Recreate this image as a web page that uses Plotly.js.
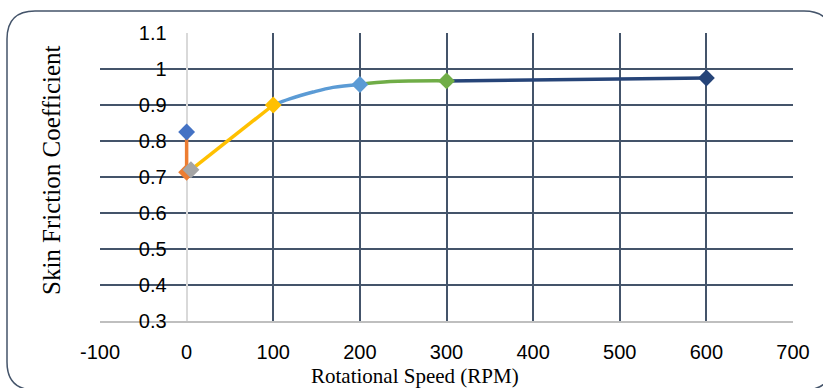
<!DOCTYPE html>
<html>
<head>
<meta charset="utf-8">
<script src="https://cdn.plot.ly/plotly-3.0.1.min.js"></script>
<style>html,body{margin:0;padding:0;background:#fff;}</style>
</head>
<body>
<div id="chart" style="width:823px;height:388px;"></div>
<script>
// Data (segments of the curve, each a separate series)
const seg1X = [0];                 const seg1Y = [0.825];
const seg2X = [0, 0];              const seg2Y = [0.825, 0.713];
const seg3X = [0, 5];              const seg3Y = [0.713, 0.72];
const seg4X = [5, 100];            const seg4Y = [0.72, 0.9];
const seg5X = [100, 119, 146, 169, 200]; const seg5Y = [0.9, 0.917, 0.936, 0.949, 0.957];
const seg6X = [200, 235, 300];     const seg6Y = [0.957, 0.965, 0.967];
const seg7X = [300, 600];          const seg7Y = [0.967, 0.975];
const xTicks = [-100, 0, 100, 200, 300, 400, 500, 600, 700];
const yTicks = [0.3, 0.4, 0.5, 0.6, 0.7, 0.8, 0.9, 1, 1.1];
const xTitle = 'Rotational Speed (RPM)';
const yTitle = 'Skin Friction Coefficient';

const segs = [
  {x: seg1X, y: seg1Y, c: '#4472c4'},
  {x: seg2X, y: seg2Y, c: '#ed7d31'},
  {x: seg3X, y: seg3Y, c: '#a5a5a5'},
  {x: seg4X, y: seg4Y, c: '#ffc000'},
  {x: seg5X, y: seg5Y, c: '#5b9bd5'},
  {x: seg6X, y: seg6Y, c: '#70ad47'},
  {x: seg7X, y: seg7Y, c: '#264478'}
];

const traces = [];
segs.forEach(s => {
  if (s.x.length > 1) {
    traces.push({x: s.x, y: s.y, mode: 'lines', type: 'scatter',
      line: {color: s.c, width: 3.5, shape: 'spline', smoothing: 1},
      hoverinfo: 'skip', showlegend: false});
  }
});
// end-point markers of each series
traces.push({
  x: segs.map(s => s.x[s.x.length - 1]),
  y: segs.map(s => s.y[s.y.length - 1]),
  mode: 'markers', type: 'scatter', showlegend: false,
  marker: {symbol: 'diamond', size: 13, color: segs.map(s => s.c), line: {width: 0}}
});

const W = 823, H = 388, mL = 100, mR = 30, mT = 33, mB = 67;
const pw = W - mL - mR, ph = H - mT - mB;
const px = v => (v - mL) / pw;
const py = v => (H - mB - v) / ph;
const bL = 7, bT = 11, bR = 832, bB = 390, rad = 28;
const frame = 'M ' + px(bL) + ' ' + py(bT + rad) +
  ' Q ' + px(bL) + ' ' + py(bT) + ' ' + px(bL + rad) + ' ' + py(bT) +
  ' L ' + px(bR - rad) + ' ' + py(bT) +
  ' Q ' + px(bR) + ' ' + py(bT) + ' ' + px(bR) + ' ' + py(bT + rad) +
  ' L ' + px(bR) + ' ' + py(bB - rad) +
  ' Q ' + px(bR) + ' ' + py(bB) + ' ' + px(bR - rad) + ' ' + py(bB) +
  ' L ' + px(bL + rad) + ' ' + py(bB) +
  ' Q ' + px(bL) + ' ' + py(bB) + ' ' + px(bL) + ' ' + py(bB - rad) + ' Z';

const tickFont = {family: 'Liberation Sans, Arial, sans-serif', size: 20, color: '#000'};
const layout = {
  width: W, height: H,
  margin: {l: mL, r: mR, t: mT, b: mB},
  paper_bgcolor: '#fff', plot_bgcolor: '#fff',
  showlegend: false,
  xaxis: {
    range: [-100, 700], tickmode: 'array', tickvals: xTicks, ticktext: xTicks.map(String),
    showgrid: true, gridcolor: '#44546a', gridwidth: 2,
    zeroline: true, zerolinecolor: '#d9d9d9', zerolinewidth: 2,
    showline: true, linecolor: '#bfbfbf', linewidth: 1.5,
    ticks: '', tickfont: tickFont, ticklabelstandoff: 12, fixedrange: true
  },
  yaxis: {
    range: [0.3, 1.1], tickmode: 'array', tickvals: yTicks, ticktext: yTicks.map(String),
    showgrid: true, gridcolor: '#44546a', gridwidth: 2,
    zeroline: false, showline: false,
    anchor: 'free', position: (0 - (-100)) / 800,
    ticks: '', tickfont: tickFont, ticklabelstandoff: 20, fixedrange: true
  },
  shapes: [
    {type: 'path', xref: 'paper', yref: 'paper', path: frame,
     line: {color: '#44546a', width: 1.5}, fillcolor: 'rgba(0,0,0,0)', layer: 'below'}
  ],
  annotations: [
    {text: xTitle, xref: 'paper', yref: 'paper', x: px(415), y: py(376),
     showarrow: false, xanchor: 'center', yanchor: 'middle',
     font: {family: 'Liberation Serif, Times New Roman, serif', size: 21, color: '#000'}},
    {text: yTitle, xref: 'paper', yref: 'paper', x: px(51), y: py(170),
     showarrow: false, textangle: -90, xanchor: 'center', yanchor: 'middle',
     font: {family: 'Liberation Serif, Times New Roman, serif', size: 25, color: '#000'}}
  ]
};

Plotly.newPlot('chart', traces, layout, {displayModeBar: false, staticPlot: true});
</script>
</body>
</html>
